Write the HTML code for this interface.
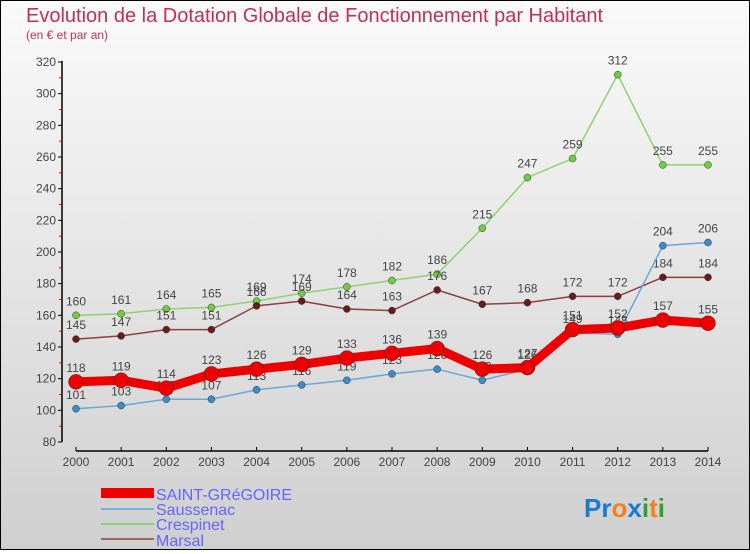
<!DOCTYPE html>
<html><head><meta charset="utf-8"><style>
html,body{margin:0;padding:0}
body{width:750px;height:550px;overflow:hidden;font-family:"Liberation Sans","DejaVu Sans",sans-serif}
#wrap{position:relative;width:748px;height:548px;border:1px solid #000;background:linear-gradient(#fafafa,#cfcfcf)}
</style></head><body>
<div id="wrap">
<svg id="chart" width="748" height="548" xmlns="http://www.w3.org/2000/svg">
<text x="25" y="21" font-size="20" fill="#c0305a">Evolution de la Dotation Globale de Fonctionnement par Habitant</text>
<text x="25" y="38" font-size="12" fill="#c0305a">(en € et par an)</text>
<g id="axes"></g><g id="series"></g>
<g>
<rect x="100" y="487" width="53" height="10" fill="#e00"/>
<text x="155" y="499" font-size="16" fill="#6464ff">SAINT-GRéGOIRE</text>
<rect x="100" y="507" width="53" height="2" fill="#7aaed6"/>
<text x="155" y="514" font-size="16" fill="#6464ff">Saussenac</text>
<rect x="100" y="522" width="53" height="2" fill="#90d070"/>
<text x="155" y="529" font-size="16" fill="#6464ff">Crespinet</text>
<rect x="100" y="537" width="53" height="2" fill="#a06060"/>
<text x="155" y="545" font-size="16" fill="#6464ff">Marsal</text>
</g>
<text x="583" y="516" font-size="26" font-weight="bold"><tspan fill="#1a7ad0">Pr</tspan><tspan fill="#f08020">o</tspan><tspan fill="#1a7ad0">x</tspan><tspan fill="#30a030">i</tspan><tspan fill="#f08020">t</tspan><tspan fill="#30a030">i</tspan></text>
</svg></div>
<script>
const years=[2000,2001,2002,2003,2004,2005,2006,2007,2008,2009,2010,2011,2012,2013,2014];
const saintGregoire=[118,119,114,123,126,129,133,136,139,126,127,151,152,157,155];
const saussenac=[101,103,107,107,113,116,119,123,126,119,126,149,148,204,206];
const crespinet=[160,161,164,165,169,174,178,182,186,215,247,259,312,255,255];
const marsal=[145,147,151,151,166,169,164,163,176,167,168,172,172,184,184];
const yTicks=[80,100,120,140,160,180,200,220,240,260,280,300,320];
const NS="http://www.w3.org/2000/svg";
const x=i=>75+i*(707-75)/(years.length-1);
const y=v=>441-(v-80)*(380/240);
function mk(tag,attrs,parent){const e=document.createElementNS(NS,tag);for(const k in attrs)e.setAttribute(k,attrs[k]);parent.appendChild(e);return e;}
const axes=document.getElementById('axes'),ser=document.getElementById('series');
let el=mk('line',{x1:61,y1:60,x2:61,y2:441,stroke:'#000','stroke-width':1.5},axes);


for(let v=90;v<320;v+=20){el=mk('line',{x1:58,y1:y(v),x2:61,y2:y(v),stroke:'#e00'},axes);

}
yTicks.forEach(v=>{mk('line',{x1:57,y1:y(v),x2:61,y2:y(v),stroke:'#000'},axes);
el=mk('text',{x:55,y:y(v)+4,'font-size':12,fill:'#444','text-anchor':'end'},axes);el.textContent=v;

});
el=mk('line',{x1:75,y1:450,x2:707,y2:450,stroke:'#000','stroke-width':1.5},axes);


years.forEach((yr,i)=>{mk('line',{x1:x(i),y1:446,x2:x(i),y2:450,stroke:'#000'},axes);
el=mk('text',{x:x(i),y:465,'font-size':12,fill:'#444','text-anchor':'middle'},axes);el.textContent=yr;

});
function series(data,color,dot,w,r,name){
 const g=mk('g',{},ser);
 
 
 const p=mk('polyline',{points:data.map((v,i)=>x(i)+','+y(v)).join(' '),fill:'none',stroke:color,'stroke-width':w,'stroke-linejoin':'round'},g);
 
 
 data.forEach((v,i)=>{const c=mk('circle',{cx:x(i),cy:y(v),r:r,fill:dot,stroke:'#333','stroke-width':0.5},g);
 
 
 const t=mk('text',{x:x(i),y:y(v)-10,'font-size':12,fill:'#444','text-anchor':'middle'},g);t.textContent=v;
 
 });
}
series(crespinet,'#90d070','#70cc40',1.5,3.5,'crespinet');
series(marsal,'#8a4040','#6a1a1a',1.5,3.5,'marsal');
series(saussenac,'#6aa6d6','#3a8acc',1.5,3.5,'saussenac');
series(saintGregoire,'#e00','#e00',9,7.5,'saint-gregoire');
</script>
</body></html>
